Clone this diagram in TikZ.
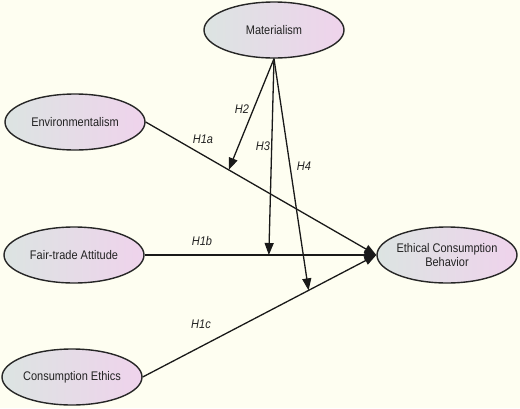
\documentclass[tikz,border=0pt]{standalone}
\usepackage{fontspec}
\setmainfont{Liberation Sans}
\newfontfamily\narrowsans[FakeStretch=0.88]{Liberation Sans}
\usetikzlibrary{positioning, arrows.meta, shapes.geometric}
\definecolor{bgcream}{HTML}{FEFEF1}
\definecolor{latleft}{HTML}{DCE4E2}
\definecolor{latright}{HTML}{EFD3EC}
\definecolor{txtdark}{HTML}{222222}

\begin{document}
\begin{tikzpicture}[
    x=1pt, y=-1pt,
    font=\narrowsans\fontsize{12.5}{14}\selectfont,
    latent/.style={
        draw=black!85, line width=1.4pt, ellipse, inner sep=0pt,
        left color=latleft, right color=latright, text=txtdark,
        minimum width=140pt, minimum height=56pt, align=center,
    },
    path/.style={-{Triangle[length=12pt, width=9pt]}, line width=1.3pt, draw=black!90},
    lbl/.style={font=\narrowsans\fontsize{12.5}{14}\selectfont\itshape, text=txtdark, inner sep=0pt},
]

% ===== Background (fixes the margins) =====
\fill[bgcream] (0,0) rectangle (520,408);

% ===== Latent variables =====
\node[latent] (mat)  at (274, 30)  {Materialism};
\node[latent] (env)  at (75, 122)  {Environmentalism};
\node[latent] (fair) at (74, 255)  {Fair-trade Attitude};
\node[latent] (ce)   at (72, 377)  {Consumption Ethics};
\node[latent, inner xsep=-3pt] (ecb) at (447, 255) {Ethical Consumption\\Behavior};

% ===== Direct effects =====
\draw[path] (env.east)  -- coordinate[pos=0.36] (h2t) (ecb.west);
\draw[path] (fair.east) -- coordinate[pos=0.536] (h3t) (ecb.west);
\draw[path] (ce.east)   -- coordinate[pos=0.71] (h4t) (ecb.west);

% ===== Moderating effects (Materialism onto the paths) =====
\draw[path] (mat.south) -- (h2t);
\draw[path] (mat.south) -- (h3t);
\draw[path] (mat.south) -- (h4t);

% ===== Hypothesis labels =====
\node[lbl] (lh1a) at (203, 139) {H1a};
\node[lbl] (lh1b) at (202, 241) {H1b};
\node[lbl] (lh1c) at (201, 324) {H1c};
\node[lbl] (lh2)  at (242, 109) {H2};
\node[lbl] (lh3)  at (263, 146) {H3};
\node[lbl] (lh4)  at (304, 166) {H4};

\end{tikzpicture}
\end{document}
